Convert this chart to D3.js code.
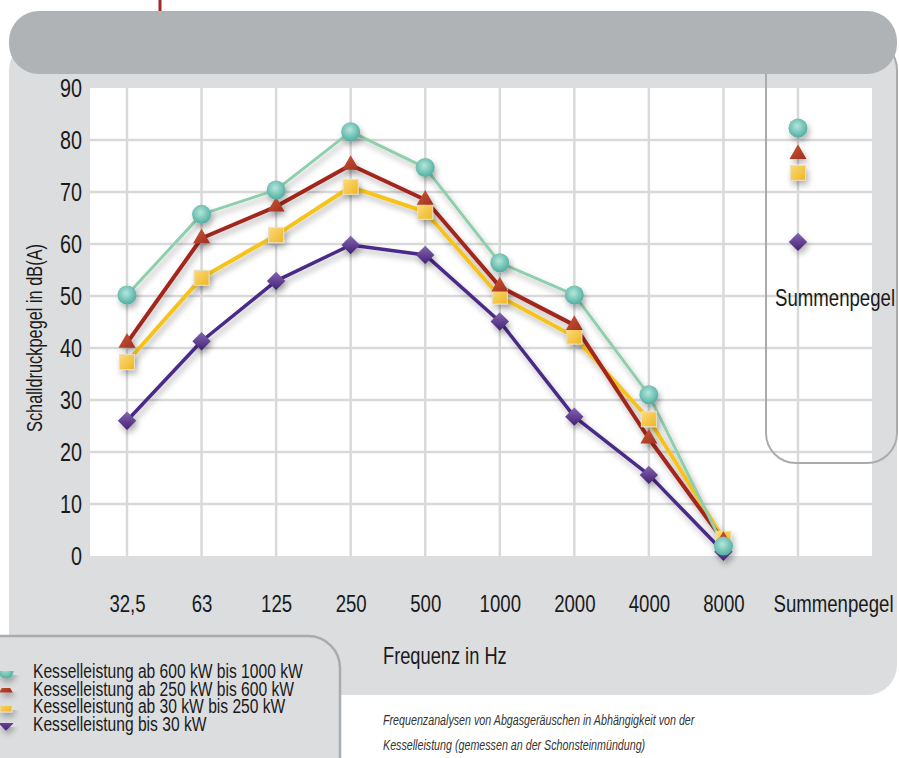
<!DOCTYPE html>
<html>
<head>
<meta charset="utf-8">
<script src="https://cdn.jsdelivr.net/npm/d3@7"></script>
<style>
body { margin: 0; background: #fff; }
svg { display: block; font-family: "Liberation Sans", Arial, sans-serif; }
</style>
</head>
<body>
<svg width="899" height="758"></svg>
<script>

// data | frequency bands + total level
let categories = ['32,5', '63', '125', '250', '500', '1000', '2000', '4000', '8000', 'Summenpegel'];
let yTicks = [0, 10, 20, 30, 40, 50, 60, 70, 80, 90];

let kw1000 = [50.2, 65.7, 70.4, 81.6, 74.7, 56.4, 50.2, 31.0, 1.9, 82.3];
let kw600  = [41.0, 61.1, 67.2, 75.2, 68.5, 51.8, 44.4, 22.6, 2.9, 77.3];
let kw250  = [37.3, 53.5, 61.7, 71.0, 66.2, 49.9, 42.2, 26.3, 3.3, 73.7];
let kw30   = [26.0, 41.3, 52.9, 59.8, 57.9, 45.1, 26.8, 15.6, 0.8, 60.4];

let names = [
    'Kesselleistung ab 600 kW bis 1000 kW',
    'Kesselleistung ab 250 kW bis 600 kW',
    'Kesselleistung ab 30 kW bis 250 kW',
    'Kesselleistung bis 30 kW'
];

let svg = d3.select('svg');

let x = d3.scalePoint().domain(categories).range([127, 798]);
let y = d3.scaleLinear().domain([0, 90]).range([556, 88]);

// condensed look: squeeze the glyphs horizontally
function narrow(k) {
    return function (sel) {
        sel.each(function () {
            let w = this.getComputedTextLength();
            d3.select(this).attr('textLength', w * k).attr('lengthAdjust', 'spacingAndGlyphs');
        });
    };
}
let K = 0.76;

// series styles
let series = [
    {name: names[0], values: kw1000, line: '#8fcfae', lw: 3,   shape: 'circle',   fill: 'url(#gCircle)'},
    {name: names[1], values: kw600,  line: '#a3261f', lw: 4,   shape: 'triangle', fill: 'url(#gTri)'},
    {name: names[2], values: kw250,  line: '#f6c31c', lw: 4,   shape: 'square',   fill: 'url(#gSquare)'},
    {name: names[3], values: kw30,   line: '#4a2a86', lw: 3.5, shape: 'diamond',  fill: 'url(#gDiamond)'}
];

/*--- defs: gradients + shadow ---*/
let defs = svg.append('defs');

let rg = defs.append('radialGradient').attr('id', 'gCircle').attr('cx', '45%').attr('cy', '40%').attr('r', '60%');
rg.append('stop').attr('offset', '0%').attr('stop-color', '#b4e6dc');
rg.append('stop').attr('offset', '100%').attr('stop-color', '#4fae9f');

function lin(id, c1, c2) {
    let g = defs.append('linearGradient').attr('id', id)
        .attr('x1', '0%').attr('y1', '0%').attr('x2', '100%').attr('y2', '100%');
    g.append('stop').attr('offset', '0%').attr('stop-color', c1);
    g.append('stop').attr('offset', '100%').attr('stop-color', c2);
}
lin('gTri', '#cc5a36', '#9f2d20');
lin('gSquare', '#fadb7a', '#f0b520');
lin('gDiamond', '#8466b0', '#432076');

let f = defs.append('filter').attr('id', 'shadow')
    .attr('filterUnits', 'userSpaceOnUse')
    .attr('x', -50).attr('y', 0).attr('width', 1000).attr('height', 800);
f.append('feGaussianBlur').attr('in', 'SourceAlpha').attr('stdDeviation', 3);
f.append('feOffset').attr('dx', 2).attr('dy', 4).attr('result', 'off');
f.append('feComponentTransfer').append('feFuncA').attr('type', 'linear').attr('slope', 0.3);
let fm = f.append('feMerge');
fm.append('feMergeNode');
fm.append('feMergeNode').attr('in', 'SourceGraphic');

/*--- background panels ---*/
svg.append('line')
    .attr('x1', 160).attr('x2', 160).attr('y1', 0).attr('y2', 14)
    .attr('stroke', '#a3282a').attr('stroke-width', 3);

svg.append('rect')
    .attr('x', 9).attr('y', 40).attr('width', 888).attr('height', 655)
    .attr('rx', 30).attr('fill', '#dcdddf');

svg.append('rect')
    .attr('x', 90).attr('y', y(90))
    .attr('width', 872 - 90).attr('height', y(0) - y(90))
    .attr('fill', '#fff');

// grid
let grid = svg.append('g').attr('stroke', '#d9d9d9').attr('stroke-width', 2.5);
grid.selectAll('line.h')
    .data(yTicks.filter(d => d > 0 && d < 90))
    .enter().append('line')
    .attr('x1', 90).attr('x2', 872)
    .attr('y1', d => y(d)).attr('y2', d => y(d));
grid.selectAll('line.v')
    .data(categories)
    .enter().append('line')
    .attr('x1', d => x(d)).attr('x2', d => x(d))
    .attr('y1', y(90)).attr('y2', y(0));

// Summenpegel panel outline
svg.append('rect')
    .attr('x', 766).attr('y', 40).attr('width', 131).attr('height', 423)
    .attr('rx', 30).attr('fill', 'none')
    .attr('stroke', '#a9acae').attr('stroke-width', 2);

svg.append('rect')
    .attr('x', 9).attr('y', 11).attr('width', 888).attr('height', 63)
    .attr('rx', 30).attr('fill', '#b0b3b5');

// legend box
svg.append('rect')
    .attr('x', -30).attr('y', 636).attr('width', 370).attr('height', 200)
    .attr('rx', 32).attr('fill', '#dcdddf')
    .attr('stroke', '#a9acae').attr('stroke-width', 2.5);

/*--- axes ---*/
let yAxis = svg.append('g')
    .attr('transform', 'translate(90,0)')
    .call(d3.axisLeft(y).tickValues(yTicks).tickSize(0).tickPadding(8));
yAxis.select('.domain').remove();
yAxis.selectAll('text')
    .attr('font-family', null).attr('font-size', 26).attr('fill', '#1a1a1a')
    .call(narrow(K));

let xAxis = svg.append('g')
    .attr('transform', 'translate(0,' + y(0) + ')')
    .call(d3.axisBottom(x).tickSize(0));
xAxis.select('.domain').remove();
xAxis.selectAll('text')
    .attr('font-family', null).attr('font-size', 24.5).attr('fill', '#1a1a1a')
    .attr('dy', null).attr('y', 56)
    .attr('x', d => d === 'Summenpegel' ? 35 : 0)
    .call(narrow(K));

svg.append('text')
    .attr('x', 383).attr('y', 664)
    .attr('font-size', 24).attr('fill', '#1a1a1a')
    .text('Frequenz in Hz')
    .call(narrow(K));

svg.append('text')
    .attr('transform', 'translate(42,338) rotate(-90)')
    .attr('text-anchor', 'middle')
    .attr('font-size', 21.5).attr('fill', '#1a1a1a')
    .text('Schalldruckpegel in dB(A)')
    .call(narrow(K));

svg.append('text')
    .attr('x', 775).attr('y', 306)
    .attr('font-size', 24.5).attr('fill', '#1a1a1a')
    .text('Summenpegel')
    .call(narrow(K));

/*--- lines + markers ---*/
let bands = categories.slice(0, 9);
let line = d3.line()
    .x((d, i) => x(bands[i]))
    .y(d => y(d));

let drawOrder = [3, 2, 1, 0];

let lines = svg.append('g').attr('filter', 'url(#shadow)');
drawOrder.forEach(function (k) {
    let s = series[k];
    lines.append('path')
        .attr('d', line(s.values.slice(0, 9)))
        .attr('fill', 'none')
        .attr('stroke', s.line)
        .attr('stroke-width', s.lw)
        .attr('stroke-linejoin', 'round');
});

function marker(sel, shape, scale) {
    if (shape === 'circle') {
        sel.append('circle').attr('r', 9.5 * scale);
    } else if (shape === 'triangle') {
        sel.append('path').attr('d', d3.symbol().type(d3.symbolTriangle).size(125 * scale * scale)());
    } else if (shape === 'square') {
        sel.append('rect')
            .attr('x', -7.5 * scale).attr('y', -7.5 * scale)
            .attr('width', 15 * scale).attr('height', 15 * scale)
            .attr('stroke', '#eadfc4').attr('stroke-width', 1);
    } else {
        sel.append('rect')
            .attr('x', -6.5 * scale).attr('y', -6.5 * scale)
            .attr('width', 13 * scale).attr('height', 13 * scale)
            .attr('transform', 'rotate(45)');
    }
}

let marks = svg.append('g').attr('filter', 'url(#shadow)');
drawOrder.forEach(function (k) {
    let s = series[k];
    marks.append('g')
        .attr('fill', s.fill)
        .selectAll('g')
        .data(s.values)
        .enter().append('g')
        .attr('transform', (d, i) => 'translate(' + x(categories[i]) + ',' + y(d) + ')')
        .each(function () { marker(d3.select(this), s.shape, 1); });
});

/*--- legend ---*/
let legend = svg.append('g');
let rows = legend.selectAll('g')
    .data(series)
    .enter().append('g')
    .attr('transform', (d, i) => 'translate(6,' + (671 + i * 17.5) + ')');
rows.append('g')
    .attr('fill', d => d.fill)
    .attr('filter', 'url(#shadow)')
    .each(function (d) { marker(d3.select(this), d.shape, 0.8); });
rows.append('text')
    .attr('x', 27).attr('dy', '0.36em')
    .attr('font-size', 19.5).attr('fill', '#1a1a1a')
    .text(d => d.name)
    .call(narrow(0.8));

// caption
let caption = svg.append('g')
    .attr('font-size', 15.5).attr('font-style', 'italic').attr('fill', '#333');
caption.append('text').attr('x', 383).attr('y', 725)
    .text('Frequenzanalysen von Abgasgeräuschen in Abhängigkeit von der')
    .call(narrow(0.69));
caption.append('text').attr('x', 383).attr('y', 750)
    .text('Kesselleistung (gemessen an der Schonsteinmündung)')
    .call(narrow(0.69));

</script>
</body>
</html>
